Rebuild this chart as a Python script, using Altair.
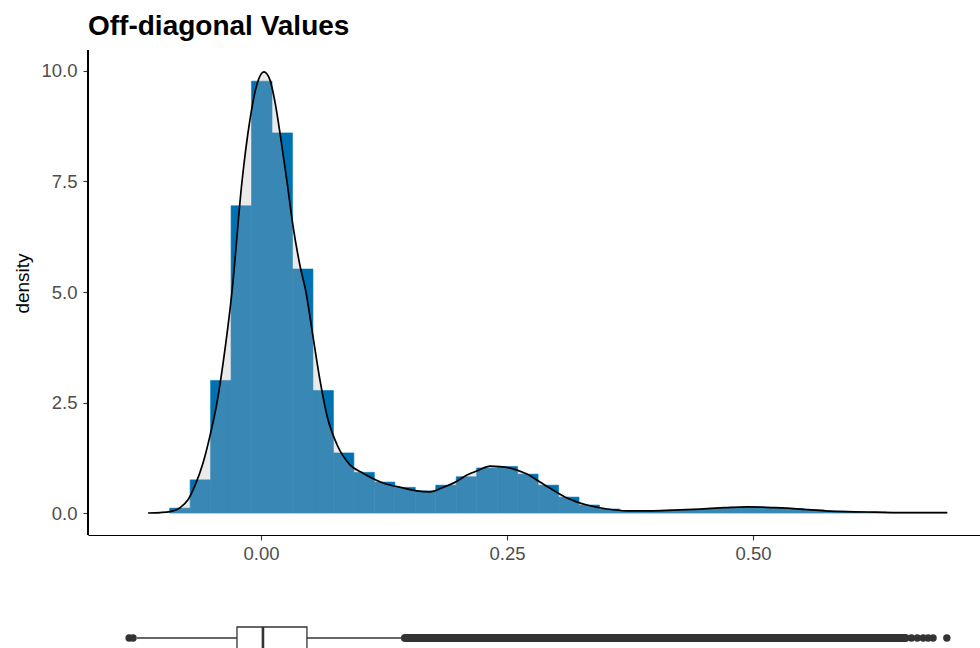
import altair as alt
import pandas as pd

# ---- histogram (equal-width bins) ----
BIN_WIDTH = 0.0208
FIRST_EDGE = -0.0928
bin_density = [0.11, 0.75, 3.0, 6.95, 9.77, 8.6, 5.52, 2.77, 1.36, 0.92,
               0.70, 0.58, 0.50, 0.63, 0.82, 1.02, 1.05, 0.88, 0.63, 0.36,
               0.18, 0.09, 0.05, 0.05, 0.06, 0.08, 0.10, 0.12, 0.14, 0.12,
               0.10, 0.07, 0.04, 0.03, 0.02, 0.01, 0.01, 0.01]

# ---- kernel density estimate ----
dens_x = [-0.1148, -0.1026, -0.0925, -0.0823, -0.0742, -0.0671, -0.0589, -0.0518,
          -0.0447, -0.0366, -0.0295, -0.0193, -0.0112, -0.0041, 0.0030, 0.0091,
          0.0142, 0.0193, 0.0264, 0.0325, 0.0396, 0.0457, 0.0528, 0.0600,
          0.0671, 0.0772, 0.0904, 0.1037, 0.1240, 0.1443, 0.1585, 0.1717,
          0.1850, 0.1992, 0.2093, 0.2205, 0.2327, 0.2429, 0.2561, 0.2703,
          0.2835, 0.2967, 0.3110, 0.3313, 0.3516, 0.3720, 0.3984, 0.4258,
          0.4461, 0.4715, 0.4939, 0.5224, 0.5478, 0.5732, 0.5955, 0.6240,
          0.6494, 0.6972]
dens_y = [0.00, 0.01, 0.03, 0.12, 0.30, 0.62, 1.13, 1.75,
          2.50, 3.70, 5.00, 7.50, 8.90, 9.70, 9.98, 9.80,
          9.30, 8.60, 7.50, 6.50, 5.60, 5.00, 4.00, 3.00,
          2.20, 1.55, 1.09, 0.90, 0.68, 0.57, 0.50, 0.48,
          0.58, 0.72, 0.86, 0.96, 1.06, 1.05, 1.00, 0.88,
          0.70, 0.52, 0.34, 0.18, 0.09, 0.05, 0.05, 0.07,
          0.09, 0.12, 0.14, 0.12, 0.09, 0.05, 0.03, 0.02,
          0.01, 0.01]

# ---- boxplot summary ----
box_lower = -0.126
box_q1 = -0.0244
box_median = 0.002
box_q3 = 0.0467
box_upper = 0.146
outlier_run = [0.1463, 0.655]          # densely packed outliers
outlier_points = [-0.134, -0.130, 0.661, 0.667, 0.673, 0.678, 0.683, 0.697]

FONT = "Liberation Sans"
BLUE = "#0072B2"
DARK = "#333333"

hist_df = pd.DataFrame({
    "x0": [FIRST_EDGE + i * BIN_WIDTH for i in range(len(bin_density))],
    "x1": [FIRST_EDGE + (i + 1) * BIN_WIDTH for i in range(len(bin_density))],
    "density": bin_density,
})
dens_df = pd.DataFrame({"x": dens_x, "density": dens_y})
box_df = pd.DataFrame({"lower": [box_lower], "q1": [box_q1], "median": [box_median],
                       "q3": [box_q3], "upper": [box_upper],
                       "run0": [outlier_run[0]], "run1": [outlier_run[1]]})
out_df = pd.DataFrame({"x": outlier_points})

PLOT_H = 598
x_scale = alt.Scale(domain=[-0.1758, 0.7307], nice=False, zero=False)
y_scale = alt.Scale(domain=[-3.054, 10.475], nice=False, zero=False)

x_axis = alt.Axis(values=[0, 0.25, 0.5], format=".2f", offset=-113, grid=False,
                  domainColor="black", domainWidth=1.2, tickColor=DARK, tickWidth=1.1,
                  tickSize=5, labelFont=FONT, labelFontSize=18.5, labelColor="#4d4d4d",
                  labelPadding=4, title=None)
y_axis = alt.Axis(values=[0, 2.5, 5, 7.5, 10], format=".1f", grid=False, domain=False,
                  tickColor=DARK, tickWidth=1.1, tickSize=5, labelFont=FONT,
                  labelFontSize=18.5, labelColor="#4d4d4d", labelPadding=6,
                  title="density", titleFont=FONT, titleFontSize=19,
                  titleFontWeight="normal", titleColor="black", titleAngle=270,
                  titleX=-66, titleY=233, titleAlign="center", titleBaseline="middle")

bars = alt.Chart(hist_df).mark_rect(color=BLUE, stroke=BLUE, strokeWidth=0.6).encode(
    x=alt.X("x0:Q", scale=x_scale, axis=x_axis),
    x2="x1:Q",
    y=alt.Y("density:Q", scale=y_scale, axis=y_axis),
    y2=alt.datum(0),
)

dens_area = alt.Chart(dens_df).mark_area(color="#b8b8b8", opacity=0.3,
                                          interpolate="monotone").encode(
    x="x:Q", y="density:Q", y2=alt.datum(0))

dens_line = alt.Chart(dens_df).mark_line(color="black", strokeWidth=1.7,
                                          interpolate="monotone").encode(
    x="x:Q", y="density:Q")

# left axis line, stopping at the x axis
y_domain = alt.Chart(dens_df).mark_rule(color="black", strokeWidth=1.2).encode(
    x=alt.value(0), y=alt.value(0), y2=alt.value(485))

# horizontal boxplot below the density panel
BOX_MID = 588
whisk_lo = alt.Chart(box_df).mark_rule(color=DARK, strokeWidth=1.3).encode(
    x="lower:Q", x2="q1:Q", y=alt.value(BOX_MID))
whisk_hi = alt.Chart(box_df).mark_rule(color=DARK, strokeWidth=1.3).encode(
    x="q3:Q", x2="upper:Q", y=alt.value(BOX_MID))
run = alt.Chart(box_df).mark_rule(color=DARK, strokeWidth=8, strokeCap="round").encode(
    x="run0:Q", x2="run1:Q", y=alt.value(BOX_MID))
points = alt.Chart(out_df).mark_circle(color=DARK, size=55, opacity=1).encode(
    x="x:Q", y=alt.value(BOX_MID))
box = alt.Chart(box_df).mark_rect(fill="white", stroke=DARK, strokeWidth=1.3,
                                  clip=True).encode(
    x="q1:Q", x2="q3:Q", y=alt.value(BOX_MID - 11), y2=alt.value(BOX_MID + 11))
median = alt.Chart(box_df).mark_rule(color=DARK, strokeWidth=2.6, clip=True).encode(
    x="median:Q", y=alt.value(BOX_MID - 11), y2=alt.value(BOX_MID + 11))

chart = alt.layer(
    bars, dens_area, dens_line, y_domain,
    whisk_lo, whisk_hi, run, points, box, median,
).properties(
    width=892,
    height=PLOT_H,
    autosize=alt.AutoSizeParams(type="none"),
    padding={"left": 88, "top": 50, "right": 0, "bottom": 0},
    title=alt.Title("Off-diagonal Values", anchor="start", frame="group", font=FONT,
                    fontSize=28, fontWeight="bold", color="black",
                    baseline="alphabetic", offset=11, dy=25),
).configure(font=FONT, background="white").configure_view(stroke="transparent")

chart.save("out.html", embed_options={"renderer": "svg", "actions": False})
